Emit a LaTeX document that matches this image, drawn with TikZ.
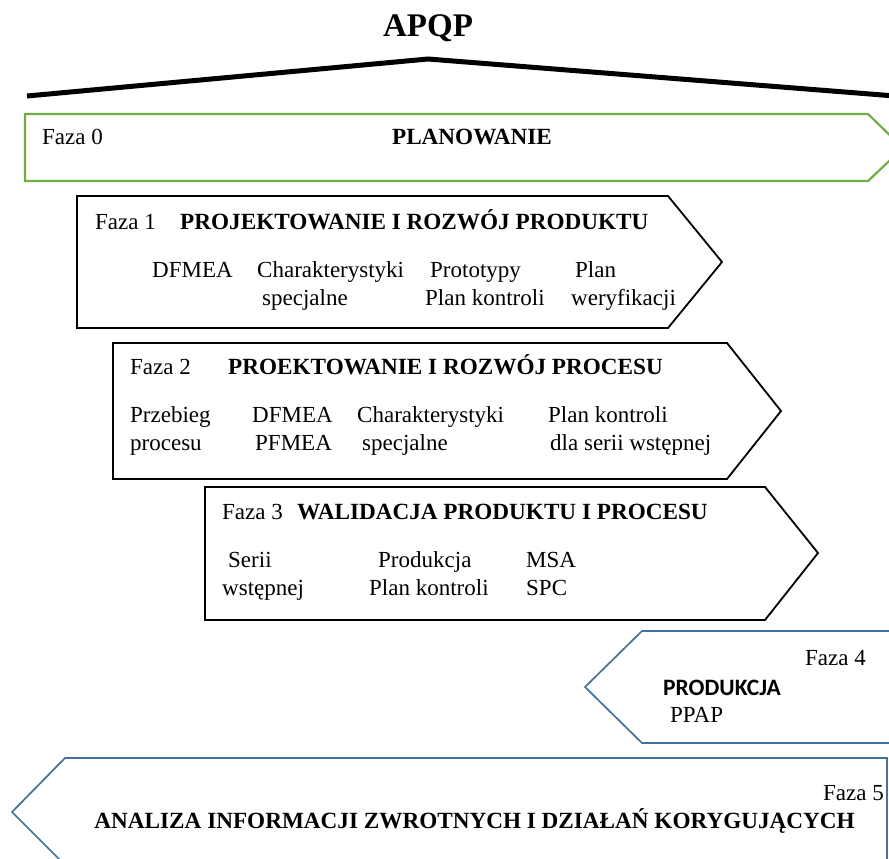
\documentclass[tikz,border=0pt]{standalone}
\usepackage{fontspec}
\setmainfont{Liberation Serif}
\newfontfamily\calib{Carlito}
\definecolor{phgreen}{HTML}{70AD47}
\definecolor{phblue}{HTML}{41719C}
\begin{document}
\begin{tikzpicture}[x=1pt,y=-1pt,
  txt/.style={font=\fontsize{23}{26}\selectfont, inner sep=0pt, anchor=base west},
  btxt/.style={font=\fontsize{23.2}{26}\selectfont\bfseries, inner sep=0pt, anchor=base west},
  phase/.style={draw=black, line width=1.8pt, line join=miter},
  gphase/.style={draw=phgreen, line width=2.2pt},
  bphase/.style={draw=phblue, line width=1.7pt},
  roof/.style={line width=5pt}]
\useasboundingbox (0,0) rectangle (889,859);
\clip (0,0) rectangle (889,859);

% title and roof
\node[font=\fontsize{33}{36}\selectfont\bfseries, inner sep=0pt, anchor=base] (title) at (428,37) {APQP};
\coordinate (rl) at (27,96);
\coordinate (rp) at (428,59);
\coordinate (rr) at (895,96);
\draw[roof] (rl) -- (rp) -- (rr);

% phase 0
\draw[gphase] (25,114) -- (868,114) -- (903,148) -- (868,181) -- (25,181) -- cycle;
\node[txt] (f0) at (42,144) {Faza 0};
\node[btxt, anchor=base] (f0t) at (472,144) {PLANOWANIE};

% phase 1
\draw[phase] (77,196) -- (668,196) -- (722,262) -- (668,328) -- (77,328) -- cycle;
\node[txt] (f1) at (95,229) {Faza 1};
\node[btxt] (f1t) at (180,229) {PROJEKTOWANIE I ROZWÓJ PRODUKTU};
\node[txt] (f1a) at (152,277) {DFMEA};
\node[txt] (f1b) at (257,277) {Charakterystyki};
\node[txt] (f1c) at (262,305) {specjalne};
\node[txt] (f1d) at (430,277) {Prototypy};
\node[txt] (f1e) at (425,305) {Plan kontroli};
\node[txt] (f1f) at (575,277) {Plan};
\node[txt] (f1g) at (571,305) {weryfikacji};

% phase 2
\draw[phase] (113,343) -- (727,343) -- (781,411) -- (727,479) -- (113,479) -- cycle;
\node[txt] (f2) at (130,374) {Faza 2};
\node[btxt] (f2t) at (228,374) {PROEKTOWANIE I ROZWÓJ PROCESU};
\node[txt] (f2a) at (130,422) {Przebieg};
\node[txt] (f2b) at (130,450) {procesu};
\node[txt] (f2c) at (252,422) {DFMEA};
\node[txt] (f2d) at (255,450) {PFMEA};
\node[txt] (f2e) at (357,422) {Charakterystyki};
\node[txt] (f2f) at (362,450) {specjalne};
\node[txt] (f2g) at (548,422) {Plan kontroli};
\node[txt] (f2h) at (550,450) {dla serii wstępnej};

% phase 3
\draw[phase] (205,487) -- (765,487) -- (818,553) -- (765,620) -- (205,620) -- cycle;
\node[txt] (f3) at (222,519) {Faza 3};
\node[btxt] (f3t) at (297,519) {WALIDACJA PRODUKTU I PROCESU};
\node[txt] (f3a) at (228,567) {Serii};
\node[txt] (f3b) at (222,595) {wstępnej};
\node[txt] (f3c) at (378,567) {Produkcja};
\node[txt] (f3d) at (369,595) {Plan kontroli};
\node[txt] (f3e) at (526,567) {MSA};
\node[txt] (f3f) at (526,595) {SPC};

% phase 4
\draw[bphase] (900,631) -- (642,631) -- (585,687) -- (642,743) -- (900,743);
\node[txt, anchor=base east] (f4) at (866,665) {Faza 4};
\node[font=\fontsize{23.5}{26}\selectfont\calib\bfseries, inner sep=0pt, anchor=base west] (f4t) at (663,695) {PRODUKCJA};
\node[txt] (f4a) at (670,722) {PPAP};

% phase 5
\draw[bphase] (887,758) -- (65,758) -- (12,812) -- (67,867) -- (887,867) -- cycle;
\node[txt, anchor=base east] (f5) at (884,800) {Faza 5};
\node[btxt, anchor=base east] (f5t) at (855,828) {ANALIZA INFORMACJI ZWROTNYCH I DZIAŁAŃ KORYGUJĄCYCH};
\end{tikzpicture}
\end{document}
